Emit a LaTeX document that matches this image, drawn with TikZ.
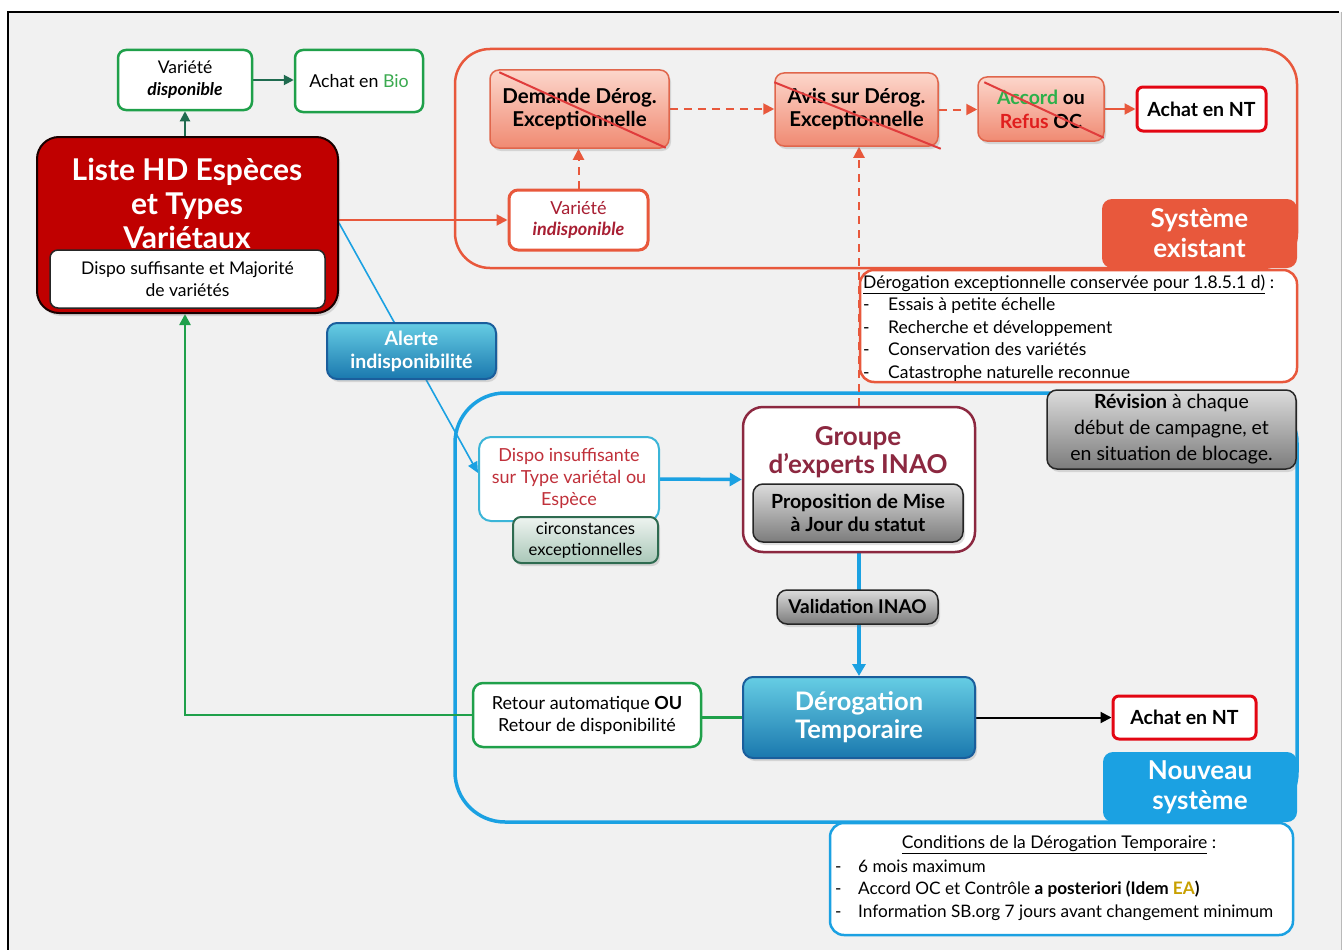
\documentclass[tikz,border=0pt]{standalone}
\usepackage{fontspec}
\setmainfont{Lato}
\usetikzlibrary{arrows.meta,shadows,calc}
\definecolor{bgGray}{HTML}{F1F1F1}
\definecolor{grnB}{HTML}{1FA04A}
\definecolor{grnD}{HTML}{1F6B4F}
\definecolor{bioG}{HTML}{3BAA50}
\definecolor{oraL}{HTML}{E8583C}
\definecolor{salT}{HTML}{FCD6CB}
\definecolor{salD}{HTML}{F08A72}
\definecolor{salB}{HTML}{E0664C}
\definecolor{redNT}{HTML}{E30613}
\definecolor{crossR}{HTML}{E03C3C}
\definecolor{listeR}{HTML}{C00000}
\definecolor{bluL}{HTML}{1BA1E2}
\definecolor{bluT}{HTML}{66CDE4}
\definecolor{bluD}{HTML}{1A78AE}
\definecolor{bluB}{HTML}{1A5E9C}
\definecolor{maroon}{HTML}{8C2840}
\definecolor{indR}{HTML}{A81E32}
\definecolor{dispR}{HTML}{C0303A}
\definecolor{dispB}{HTML}{3BB5D8}
\definecolor{circT}{HTML}{EEF4F0}
\definecolor{circD}{HTML}{A9C7B8}
\definecolor{circB}{HTML}{2E6B50}
\definecolor{grayT}{HTML}{DCDCDC}
\definecolor{grayD}{HTML}{7C7C7C}
\definecolor{goldEA}{HTML}{C8A000}
\definecolor{accG}{HTML}{2DB04A}
\definecolor{refR}{HTML}{E01E1E}
\newcommand\fs[2]{\fontsize{#1}{#2}\selectfont}
\pgfdeclarelayer{back}
\pgfdeclarelayer{mid}
\pgfsetlayers{back,mid,main}
\begin{document}
\begin{tikzpicture}[x=1pt,y=-1pt,
  every node/.style={inner sep=0pt, align=center},
  container/.style={fill=none},
  gbox/.style={draw=grnB, line width=2.5pt, fill=white, rounded corners=8pt},
  salbox/.style={draw=salB, line width=1.5pt, top color=salT, bottom color=salD, rounded corners=9pt,
     font=\bfseries\fs{20.5}{23}, drop shadow={opacity=0.25, shadow xshift=2pt, shadow yshift=-3pt}},
  ntbox/.style={draw=redNT, line width=3pt, fill=white, rounded corners=6pt, font=\bfseries\fs{19.5}{22}},
  graybox/.style={draw=black!85, line width=1.5pt, top color=grayT, bottom color=grayD, rounded corners=10pt,
     drop shadow={opacity=0.25, shadow xshift=2pt, shadow yshift=-3pt}},
  bluebox/.style={draw=bluB, line width=2pt, top color=bluT, bottom color=bluD, rounded corners=10pt,
     text=white, drop shadow={opacity=0.25, shadow xshift=2pt, shadow yshift=-3pt}},
  tag/.style={rounded corners=10pt, text=white, font=\bfseries\fs{26}{30}},
  crossline/.style={draw=crossR, line width=2pt},
  dgarrow/.style={draw=grnD, line width=2pt, -{Triangle[length=10pt,width=10pt]}},
  oarrow/.style={draw=oraL, line width=2pt, -{Triangle[length=11pt,width=11pt]}},
  odash/.style={draw=oraL, line width=2pt, dash pattern=on 8pt off 6pt, -{Triangle[length=11pt,width=11pt]}},
  barrow/.style={draw=bluL, line width=3.5pt, -{Triangle[length=12pt,width=13pt]}},
  thinblue/.style={draw=bluL, line width=1.6pt, -{Triangle[length=11pt,width=10pt]}},
  gline/.style={draw=grnB, line width=2.5pt},
  karrow/.style={draw=black, line width=2pt, -{Triangle[length=11pt,width=11pt]}}
]
\useasboundingbox (0,0) rectangle (1344,950);
\begin{pgfonlayer}{back}
  \fill[white] (0,0) rectangle (1344,950);
  \fill[bgGray] (8,12) rectangle (1341,950);
  \draw[line width=2.5pt] (8,950) -- (8,12) -- (1339,12);
  \draw[gray!55, line width=1pt] (1341,12) -- (1341,950);
  \node[container, draw=oraL, line width=2.5pt, rounded corners=35pt, minimum width=842pt, minimum height=219pt] (sysA) at (876,158.5) {};
  \node[container, draw=bluL, line width=3.5pt, rounded corners=50pt, minimum width=842pt, minimum height=429pt] (sysN) at (876,607.5) {};
\end{pgfonlayer}

% ---------- top-left ----------
\node[gbox, minimum width=134pt, minimum height=60pt, font=\fs{17.5}{22}] (varD) at (185,80) {Variété\\\textbf{\textit{disponible}}};
\node[gbox, minimum width=128pt, minimum height=62pt, font=\fs{17.8}{20}] (bio) at (359,81) {Achat en \textcolor{bioG}{Bio}};

\node[draw=black!90!red, line width=2pt, fill=listeR, rounded corners=22pt, minimum width=301pt, minimum height=176pt,
  drop shadow={opacity=0.25, shadow xshift=2pt, shadow yshift=-3pt}] (liste) at (187.5,225) {};
\node[text=white, font=\bfseries\fs{30}{34}, anchor=base] (listeT) at (187,248) {Liste HD Espèces\\et Types\\Variétaux};
\node[draw=black!85, line width=1.5pt, fill=white, rounded corners=8pt, minimum width=275pt, minimum height=58pt,
  font=\fs{17.5}{22}] (suff) at (187.5,279) {Dispo suffisante et Majorité\\de variétés};

% ---------- Système existant ----------
\node[salbox, minimum width=179pt, minimum height=78pt] (demande) at (579.5,109) {Demande Dérog.\\Exceptionnelle};
\node[salbox, minimum width=163pt, minimum height=73pt] (avis) at (856.5,109.5) {Avis sur Dérog.\\Exceptionnelle};
\node[salbox, minimum width=126pt, minimum height=64pt, font=\bfseries\fs{19.5}{24}] (accord) at (1041,109) {\textcolor{accG}{Accord} ou\\\textcolor{refR}{Refus} OC};
\node[ntbox, minimum width=129pt, minimum height=44pt] (achatA) at (1201.5,109) {Achat en NT};
\node[draw=oraL, line width=3pt, fill=white, rounded corners=9pt, minimum width=139pt, minimum height=60pt,
  font=\fs{18}{21}, text=indR] (indisp) at (578.5,220) {Variété\\\textbf{\textit{indisponible}}};
\node[tag, fill=oraL, minimum width=195pt, minimum height=69pt] (tagA) at (1199.5,233.5) {Système\\existant};

\node[draw=oraL, line width=2.5pt, fill=white, rounded corners=14pt, minimum width=437pt, minimum height=112pt] (excBox) at (1078.5,326) {};
\node[anchor=west, align=left, font=\fs{17.5}{22.5}] (excTxt) at (863,328)
  {\underline{Dérogation exceptionnelle conservée pour 1.8.5.1 d)} :\\
   \makebox[25pt][l]{-}Essais à petite échelle\\
   \makebox[25pt][l]{-}Recherche et développement\\
   \makebox[25pt][l]{-}Conservation des variétés\\
   \makebox[25pt][l]{-}Catastrophe naturelle reconnue};

% ---------- Nouveau système ----------
\node[bluebox, minimum width=169pt, minimum height=56pt, font=\bfseries\fs{19.5}{23}] (alerte) at (411.5,351) {Alerte\\indisponibilité};
\node[draw=dispB, line width=2pt, fill=white, rounded corners=12pt, minimum width=180pt, minimum height=84pt,
  text=dispR, font=\fs{18}{22}] (dispo) at (569,479) {Dispo insuffisante\\sur Type variétal ou\\Espèce\vphantom{g}};
\node[draw=circB, line width=2pt, top color=circT, bottom color=circD, rounded corners=8pt, minimum width=145pt, minimum height=46pt,
  font=\fs{16.7}{21}, drop shadow={opacity=0.25, shadow xshift=2pt, shadow yshift=-3pt}] (circ) at (585.5,540) {circonstances\\exceptionnelles};

\node[draw=maroon, line width=2.5pt, fill=white, rounded corners=20pt, minimum width=232pt, minimum height=145pt] (groupe) at (859,479.5) {};
\node[text=maroon, font=\bfseries\fs{26}{28}] (groupeT) at (858,452) {Groupe\\d’experts INAO};
\node[graybox, minimum width=210pt, minimum height=58pt, font=\bfseries\fs{19.5}{22.5}] (propo) at (858,513) {Proposition de Mise\\à Jour du statut};
\node[graybox, minimum width=249pt, minimum height=79pt, font=\fs{19.5}{26}] (revis) at (1171.5,429.5) {\textbf{Révision} à chaque\\début de campagne, et\\en situation de blocage.};
\node[graybox, minimum width=161pt, minimum height=34pt, font=\bfseries\fs{19}{20}] (valid) at (857.5,607) {Validation INAO};

\node[gbox, rounded corners=10pt, minimum width=228pt, minimum height=64pt, font=\fs{18}{22}] (retour) at (587,715) {Retour automatique \textbf{OU}\\Retour de disponibilité};
\node[bluebox, minimum width=232pt, minimum height=81pt, font=\bfseries\fs{25.5}{28}] (derogT) at (859,717.5) {Dérogation\\Temporaire};
\node[ntbox, minimum width=143pt, minimum height=43pt] (achatB) at (1184.5,717.5) {Achat en NT};
\node[tag, fill=bluL, minimum width=194pt, minimum height=70pt] (tagN) at (1200,787) {Nouveau\\système};

\node[draw=bluL, line width=2.5pt, fill=white, rounded corners=14pt, minimum width=463pt, minimum height=112pt] (condBox) at (1061.5,879) {};
\node[font=\fs{17.5}{20}] (condH) at (1059,845) {\underline{Conditions de la Dérogation Temporaire} :};
\node[anchor=west, align=left, font=\fs{17.2}{22.5}] (condL) at (835,890)
  {\makebox[23pt][l]{-}6 mois maximum\\
   \makebox[23pt][l]{-}Accord OC et Contrôle \textbf{a posteriori (Idem \textcolor{goldEA}{EA})}\\
   \makebox[23pt][l]{-}Information SB.org 7 jours avant changement minimum};

% ---------- crossing lines ----------
\draw[crossline] ($(demande.north west)+(10,3)$) -- ($(demande.south east)+(-4,-1)$);
\draw[crossline] ($(avis.north west)+(0,10)$) -- ($(avis.south east)+(2,2)$);
\draw[crossline] ($(accord.north west)+(7,6)$) -- ($(accord.south east)+(-1,-4)$);

% ---------- connectors ----------
\begin{pgfonlayer}{mid}
  \draw[dgarrow] (varD.south |- liste.north) -- (varD.south);
  \draw[dgarrow] (varD.east) -- (varD.east -| bio.west);
  \draw[oarrow] (liste.east |- indisp.west) -- (indisp.west);
  \draw[odash] (indisp.north) -- (indisp.north |- demande.south);
  \draw[odash] (demande.east) -- (demande.east -| avis.west);
  \draw[odash] (avis.east) -- (avis.east -| accord.west);
  \draw[oarrow] (accord.east) -- (accord.east -| achatA.west);
  \draw[odash] (groupe.north) -- (groupe.north |- avis.south);
  \draw[thinblue] ($(liste.east)+(0,-2)$) -- ($(dispo.west)+(0,-6)$);
  \draw[barrow] (dispo.east) -- (groupe.west);
  \draw[barrow] (groupe.south) -- (groupe.south |- derogT.north);
  \draw[gline] (derogT.west) -- (derogT.west -| retour.east);
  \draw[gline, -{Triangle[length=11pt,width=11pt]}] (retour.west) -- (retour.west -| varD.south) -- (varD.south |- liste.south);
  \draw[karrow] (derogT.east) -- (derogT.east -| achatB.west);
\end{pgfonlayer}
\end{tikzpicture}
\end{document}
